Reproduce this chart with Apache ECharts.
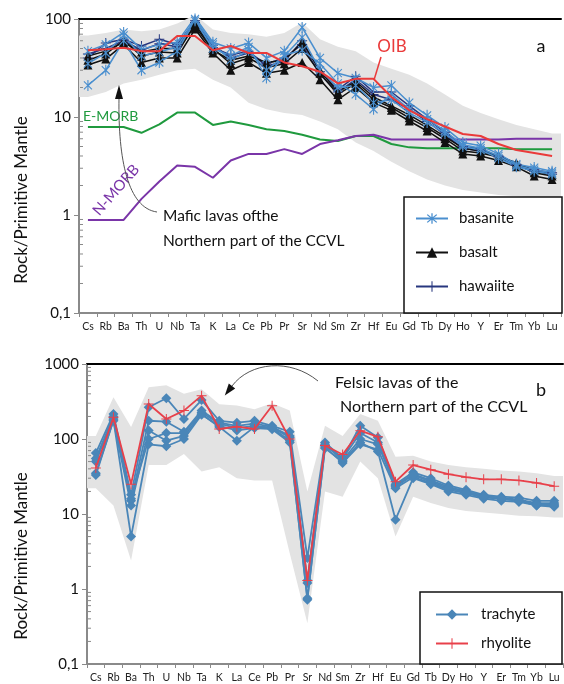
<!DOCTYPE html>
<html><head><meta charset="utf-8">
<script src="https://cdn.jsdelivr.net/npm/echarts@6/dist/echarts.min.js"></script>
<style>html,body{margin:0;padding:0;background:#fff}#c{width:564px;height:684px}</style>
</head><body><div id="c"></div>
<script>
// ---------- categories ----------
const elements = ['Cs','Rb','Ba','Th','U','Nb','Ta','K','La','Ce','Pb','Pr','Sr','Nd','Sm','Zr','Hf','Eu','Gd','Tb','Dy','Ho','Y','Er','Tm','Yb','Lu'];

// ---------- tick labels ----------
const yTicksA = [0.1, 1, 10, 100];
const yTickLabelsA = ['0,1', '1', '10', '100'];
const yTicksB = [0.1, 1, 10, 100, 1000];
const yTickLabelsB = ['0,1', '1', '10', '100', '1000'];

// ---------- panel a: reference patterns ----------
const oib   = [48, 49, 51, 47, 47, 67, 67, 48, 53, 45, 45, 36, 33, 29, 22, 24.5, 24.5, 16, 11.7, 9.5, 8, 6.7, 6.4, 5.3, 4.6, 4.3, 4.0];
const emorb = [7.9, 7.9, 7.9, 6.9, 8.4, 11.1, 11.1, 8.3, 9.0, 8.3, 7.5, 7.2, 6.6, 5.9, 5.7, 6.4, 6.4, 5.3, 4.9, 4.8, 4.8, 4.8, 4.8, 4.8, 4.7, 4.7, 4.7];
const nmorb = [0.89, 0.89, 0.89, 1.46, 2.2, 3.2, 3.1, 2.4, 3.6, 4.2, 4.2, 4.7, 4.2, 5.3, 5.8, 6.4, 6.6, 5.9, 5.9, 5.9, 5.9, 5.9, 5.9, 5.9, 6.0, 6.0, 6.0];

// ---------- panel a: samples ----------
const basanite1 = [47, 55, 73, 49, 55, 58, 104, 58, 50, 57, 40, 47, 82, 40, 28, 25, 20, 21, 14, 10.4, 7.8, 5.5, 5.1, 4.2, 3.3, 3.05, 2.8];
const basanite2 = [21, 30, 60, 30, 36, 47, 96, 50, 42, 52, 25, 43, 48, 35, 22, 17, 12, 17, 12, 9.5, 7.2, 5.2, 4.8, 4.0, 3.2, 2.9, 2.7];
const basanite3 = [35, 45, 68, 42, 46, 52, 100, 55, 38, 48, 30, 42, 65, 30, 20, 21, 14, 15, 11, 8.8, 6.8, 5.0, 4.6, 3.8, 3.1, 2.8, 2.6];
const basalt1 = [34, 39, 55, 36, 40, 40, 79, 45, 30, 36, 28, 30, 36, 24, 15, 20, 14, 11.7, 9.1, 7.2, 5.5, 4.2, 4.0, 3.6, 3.1, 2.5, 2.3];
const basalt2 = [38, 44, 60, 42, 46, 45, 88, 50, 35, 40, 32, 35, 50, 28, 17, 22, 15, 12.5, 9.8, 7.8, 6.0, 4.5, 4.3, 3.9, 3.3, 2.7, 2.5];
const basalt3 = [42, 47, 58, 46, 50, 50, 84, 48, 38, 42, 36, 38, 58, 30, 18, 23, 16, 13, 10.5, 8.2, 6.3, 4.8, 4.5, 4.0, 3.4, 2.8, 2.6];
const hawaiite1 = [40, 57, 62, 53, 62, 55, 96, 51, 43, 47, 33, 37, 60, 29, 19, 26, 18, 18, 13, 9.5, 7.0, 5.0, 4.7, 4.0, 3.3, 2.9, 2.7];
const hawaiite2 = [44, 50, 60, 48, 56, 52, 92, 54, 40, 45, 35, 40, 55, 27, 18, 24, 17, 15, 12, 9.0, 6.6, 4.8, 4.5, 3.9, 3.2, 2.8, 2.6];

// ---------- panel a: envelope ----------
const upperA = [68, 72, 78, 75, 78, 90, 110, 78, 72, 70, 66, 72, 92, 62, 52, 47, 36, 31, 27, 22, 17, 13, 11, 9.5, 8.3, 7.5, 6.8];
const lowerA = [16, 18, 22, 24, 27, 30, 31, 24, 20, 14, 12, 11, 10.5, 9, 7.5, 5.5, 4.5, 3.5, 2.8, 2.3, 2.0, 1.8, 1.7, 1.6, 1.55, 1.5, 1.45];

// ---------- panel b: samples ----------
const trachyte1 = [65, 215, 18, 265, 350, 185, 330, 175, 165, 175, 150, 125, 2.6, 90, 55, 150, 105, 25, 36, 30, 24, 21, 18, 17, 16.5, 15, 15];
const trachyte2 = [50, 190, 15, 175, 170, 125, 240, 165, 150, 160, 145, 110, 1.2, 85, 52, 100, 85, 24, 34, 28, 23, 20, 17.5, 16.5, 15.5, 14, 14];
const trachyte3 = [35, 175, 13, 130, 95, 110, 215, 145, 95, 145, 140, 95, 0.72, 78, 48, 85, 72, 22, 31, 26, 21, 19, 16.5, 16, 15, 13, 12.5];
const trachyte4 = [33, 180, 5, 85, 80, 100, 210, 150, 130, 140, 135, 90, 0.75, 75, 50, 90, 68, 8.4, 30, 25, 20, 18, 16, 15, 14.5, 13, 13];
const trachyte5 = [55, 200, 16, 100, 120, 120, 225, 160, 140, 150, 142, 105, 1.3, 82, 55, 120, 90, 23, 33, 27, 22, 19.5, 17, 16, 15, 13.5, 13.5];
const rhyolite  = [41, 195, 25, 293, 185, 239, 378, 136, 146, 136, 278, 100, 1.3, 82, 62, 129, 107, 27, 45, 39, 34, 31, 29, 29, 28, 26, 23.5];

// ---------- panel b: envelope ----------
const upperB = [110, 360, 145, 490, 520, 400, 460, 290, 280, 250, 300, 240, 20, 150, 110, 215, 175, 58, 60, 50, 45, 42, 40, 38, 37, 35, 32];
const lowerB = [22, 13, 2.4, 45, 45, 63, 37, 42, 30, 28, 28, 3, 0.35, 20, 17, 50, 30, 5, 17, 14, 12, 11, 10.5, 10, 9.5, 9.3, 9];

// ---------- styles ----------
const FONT = 'Lato, "Noto Sans", sans-serif';
const AXIS_GREY = '#8a8a8a';
const C_BASANITE = '#4a8fcf';
const C_BASALT = '#111111';
const C_HAWAIITE = '#27367e';
const C_OIB = '#ea3a3a';
const C_EMORB = '#1f9a3e';
const C_NMORB = '#7a35a8';
const C_TRACHYTE = '#4a86b8';
const C_RHYOLITE = '#e8404a';
const C_ENV = '#e3e3e3';

const SYM_ASTERISK = 'path://M9,0L11,0L11,20L9,20Z M2,3.4L3.4,2L18,16.6L16.6,18Z M16.6,2L18,3.4L3.4,18L2,16.6Z';
const SYM_PLUS = 'path://M9,0L11,0L11,20L9,20Z M0,9L20,9L20,11L0,11Z';

function tickFormatter(vals, labels) {
  return function (v) {
    const k = Math.round(Math.log10(v));
    for (let i = 0; i < vals.length; i++) if (Math.round(Math.log10(vals[i])) === k) return labels[i];
    return '';
  };
}

function envelopeSeries(grid, lower, upper) {
  return {
    type: 'custom', name: 'field' + grid, xAxisIndex: grid * 2, yAxisIndex: grid,
    data: [[0, 1]], z: 1, silent: true, animation: false,
    renderItem: function (params, api) {
      const half = (api.coord([1, 1])[0] - api.coord([0, 1])[0]) / 2;
      const up = upper.map((v, i) => api.coord([i, v]));
      const lo = lower.map((v, i) => api.coord([i, v]));
      const n = up.length - 1;
      const pts = [];
      pts.push([up[0][0] - half, up[0][1]]);
      up.forEach(p => pts.push(p));
      pts.push([up[n][0] + half, up[n][1]]);
      pts.push([lo[n][0] + half, lo[n][1]]);
      for (let i = n; i >= 0; i--) pts.push(lo[i]);
      pts.push([lo[0][0] - half, lo[0][1]]);
      return { type: 'polygon', shape: { points: pts }, style: { fill: C_ENV } };
    }
  };
}

function minorTickSeries(grid, minExp, maxExp) {
  const vals = [];
  for (let e = minExp; e < maxExp; e++) for (let m = 2; m <= 9; m++) vals.push([0, m * Math.pow(10, e)]);
  return {
    type: 'custom', name: 'minor' + grid, xAxisIndex: grid * 2, yAxisIndex: grid,
    data: vals, z: 5, silent: true, animation: false,
    renderItem: function (params, api) {
      const half = (api.coord([1, 1])[0] - api.coord([0, 1])[0]) / 2;
      const p = api.coord([0, api.value(1)]);
      const x = p[0] - half;
      return { type: 'line', shape: { x1: x + 1, y1: p[1], x2: x + 4, y2: p[1] }, style: { stroke: AXIS_GREY, lineWidth: 1 } };
    }
  };
}

function line(name, data, color, grid, symbol, size, width, z) {
  return {
    type: 'line', name: name, data: data, xAxisIndex: grid * 2, yAxisIndex: grid,
    symbol: symbol, symbolSize: size, showSymbol: symbol !== 'none', symbolKeepAspect: true,
    lineStyle: { color: color, width: width }, itemStyle: { color: color },
    z: z, animation: false, silent: true, emphasis: { disabled: true }
  };
}

function catAxis(grid, top) {
  if (top) {
    return { type: 'category', gridIndex: grid, position: 'top', data: elements,
      axisLine: { show: true, lineStyle: { color: '#000', width: 2 } }, axisTick: { show: false }, axisLabel: { show: false }, splitLine: { show: false } };
  }
  return { type: 'category', gridIndex: grid, data: elements, boundaryGap: true,
    axisLine: { show: true, lineStyle: { color: AXIS_GREY, width: 2 } },
    axisTick: { show: true, length: 4, lineStyle: { color: AXIS_GREY } },
    axisLabel: { interval: 0, fontSize: 10.5, color: '#222', fontFamily: FONT, margin: 8 },
    splitLine: { show: false } };
}

function logAxis(grid, max, vals, labels) {
  return { type: 'log', gridIndex: grid, min: 0.1, max: max, logBase: 10,
    axisLine: { show: true, lineStyle: { color: AXIS_GREY, width: 2 } },
    axisTick: { show: true, length: 5, lineStyle: { color: AXIS_GREY } },
    splitLine: { show: false },
    axisLabel: { fontSize: 15, color: '#111', fontFamily: FONT, margin: 8, formatter: tickFormatter(vals, labels) } };
}

const chart = echarts.init(document.getElementById('c'), null, { renderer: 'canvas' });

const series = [
  envelopeSeries(0, lowerA, upperA),
  line('E-MORB', emorb, C_EMORB, 0, 'none', 0, 2, 2),
  line('N-MORB', nmorb, C_NMORB, 0, 'none', 0, 2, 2),
  line('hawaiite', hawaiite1, C_HAWAIITE, 0, SYM_PLUS, 10, 1.5, 3),
  line('hawaiite', hawaiite2, C_HAWAIITE, 0, SYM_PLUS, 10, 1.5, 3),
  line('basalt', basalt1, C_BASALT, 0, 'triangle', 9, 1.5, 3),
  line('basalt', basalt2, C_BASALT, 0, 'triangle', 9, 1.5, 3),
  line('basalt', basalt3, C_BASALT, 0, 'triangle', 9, 1.5, 3),
  line('basanite', basanite1, C_BASANITE, 0, SYM_ASTERISK, 11, 1.5, 3),
  line('basanite', basanite2, C_BASANITE, 0, SYM_ASTERISK, 11, 1.5, 3),
  line('basanite', basanite3, C_BASANITE, 0, SYM_ASTERISK, 11, 1.5, 3),
  line('OIB', oib, C_OIB, 0, 'none', 0, 2, 4),
  minorTickSeries(0, -1, 2),

  envelopeSeries(1, lowerB, upperB),
  line('trachyte', trachyte1, C_TRACHYTE, 1, 'diamond', 10, 1.8, 3),
  line('trachyte', trachyte2, C_TRACHYTE, 1, 'diamond', 10, 1.8, 3),
  line('trachyte', trachyte3, C_TRACHYTE, 1, 'diamond', 10, 1.8, 3),
  line('trachyte', trachyte4, C_TRACHYTE, 1, 'diamond', 10, 1.8, 3),
  line('trachyte', trachyte5, C_TRACHYTE, 1, 'diamond', 10, 1.8, 3),
  line('rhyolite', rhyolite, C_RHYOLITE, 1, SYM_PLUS, 10, 1.8, 4),
  minorTickSeries(1, -1, 3)
];

const textStyle = (extra) => Object.assign({ fontFamily: FONT, fill: '#111' }, extra);

const option = {
  backgroundColor: '#fff',
  animation: false,
  grid: [
    { left: 79, top: 19, width: 482, height: 294 },
    { left: 87, top: 364, width: 476, height: 300 }
  ],
  xAxis: [catAxis(0, false), catAxis(0, true), catAxis(1, false), catAxis(1, true)],
  yAxis: [logAxis(0, 100, yTicksA, yTickLabelsA), logAxis(1, 1000, yTicksB, yTickLabelsB)],
  legend: [
    { data: ['basanite', 'basalt', 'hawaiite'], orient: 'vertical', left: 410, top: 206, itemGap: 19,
      itemWidth: 32, itemHeight: 13, z: 10, selectedMode: false,
      textStyle: { fontSize: 15, color: '#111', fontFamily: FONT, padding: [0, 0, 0, 6] } },
    { data: ['trachyte', 'rhyolite'], orient: 'vertical', left: 430, top: 602, itemGap: 14,
      itemWidth: 32, itemHeight: 13, z: 10, selectedMode: false,
      textStyle: { fontSize: 15, color: '#111', fontFamily: FONT, padding: [0, 0, 0, 8] } }
  ],
  graphic: [
    { type: 'rect', z: 8, shape: { x: 404, y: 197, width: 158, height: 116 }, style: { fill: '#fff', stroke: '#111', lineWidth: 1.5 } },
    { type: 'rect', z: 8, shape: { x: 420, y: 592, width: 142, height: 72 }, style: { fill: '#fff', stroke: '#111', lineWidth: 1.5 } },
    { type: 'text', z: 9, x: 22, y: 200, rotation: Math.PI / 2, style: textStyle({ text: 'Rock/Primitive Mantle', fontSize: 17, align: 'center', verticalAlign: 'middle' }) },
    { type: 'text', z: 9, x: 22, y: 556, rotation: Math.PI / 2, style: textStyle({ text: 'Rock/Primitive Mantle', fontSize: 17, align: 'center', verticalAlign: 'middle' }) },
    { type: 'text', z: 9, x: 541, y: 46, style: textStyle({ text: 'a', fontSize: 18, align: 'center', verticalAlign: 'middle' }) },
    { type: 'text', z: 9, x: 541, y: 390, style: textStyle({ text: 'b', fontSize: 18, align: 'center', verticalAlign: 'middle' }) },
    { type: 'text', z: 9, x: 392, y: 47, style: textStyle({ text: 'OIB', fontSize: 17, fill: C_OIB, align: 'center', verticalAlign: 'middle' }) },
    { type: 'line', z: 9, shape: { x1: 381, y1: 57, x2: 374, y2: 80 }, style: { stroke: C_OIB, lineWidth: 1.5 } },
    { type: 'text', z: 9, x: 83, y: 116, style: textStyle({ text: 'E-MORB', fontSize: 14, fill: C_EMORB, align: 'left', verticalAlign: 'middle' }) },
    { type: 'text', z: 9, x: 116, y: 190, rotation: 0.85, style: textStyle({ text: 'N-MORB', fontSize: 15, fill: C_NMORB, align: 'center', verticalAlign: 'middle' }) },
    { type: 'text', z: 9, x: 163, y: 216, style: textStyle({ text: 'Mafic lavas ofthe', fontSize: 15.5, align: 'left', verticalAlign: 'middle' }) },
    { type: 'text', z: 9, x: 163, y: 241, style: textStyle({ text: 'Northern part of the CCVL', fontSize: 15.5, align: 'left', verticalAlign: 'middle' }) },
    { type: 'bezierCurve', z: 9, shape: { x1: 157, y1: 212, cpx1: 128, cpy1: 208, cpx2: 118, cpy2: 160, x2: 119, y2: 98 }, style: { stroke: '#555', lineWidth: 1, fill: null } },
    { type: 'polygon', z: 9, shape: { points: [[119, 85], [115, 99], [123, 99]] }, style: { fill: '#111' } },
    { type: 'text', z: 9, x: 335, y: 383, style: textStyle({ text: 'Felsic lavas of the', fontSize: 16, align: 'left', verticalAlign: 'middle' }) },
    { type: 'text', z: 9, x: 340, y: 407, style: textStyle({ text: 'Northern part of the CCVL', fontSize: 16, align: 'left', verticalAlign: 'middle' }) },
    { type: 'bezierCurve', z: 9, shape: { x1: 318, y1: 381, cpx1: 290, cpy1: 358, cpx2: 250, cpy2: 362, x2: 232, y2: 386 }, style: { stroke: '#555', lineWidth: 1, fill: null } },
    { type: 'polygon', z: 9, shape: { points: [[224.8, 395.6], [235.2, 388.4], [228.8, 383.6]] }, style: { fill: '#111' } }
  ],
  series: series
};
chart.setOption(option);
</script></body></html>
